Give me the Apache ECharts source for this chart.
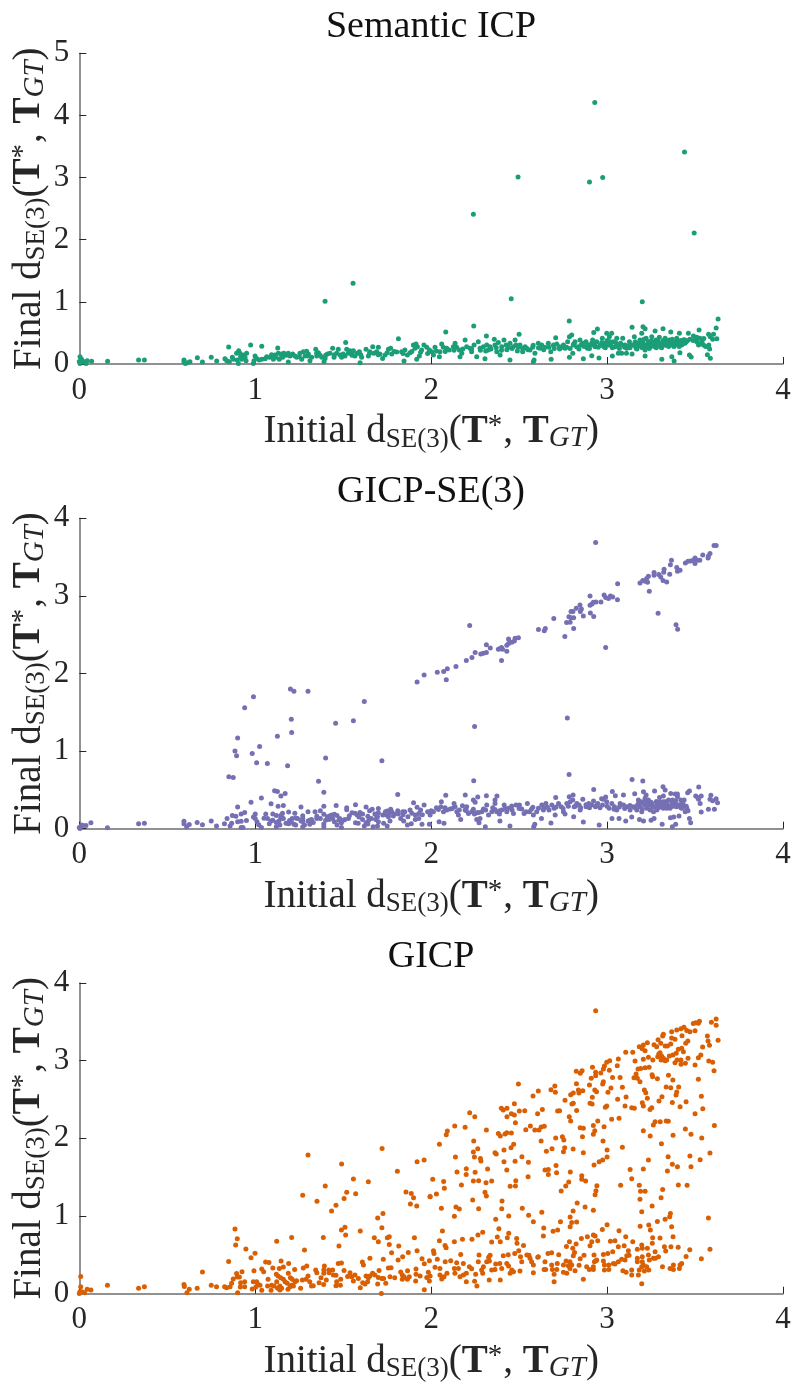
<!DOCTYPE html>
<html>
<head>
<meta charset="utf-8">
<style>html,body{margin:0;padding:0;background:#fff}#chart{width:794px;height:1385px}</style>
<script src="https://cdn.jsdelivr.net/npm/echarts@6/dist/echarts.min.js"></script>
</head>
<body>
<div id="chart"></div>
<script>
// values: [initial, final]
const semanticPoints = [
[1.397,1.01],[1.556,1.3],[2.24,2.41],[2.494,3.01],[2.455,1.05],[3.2,1.0],[2.785,.69],[3.495,2.11],[2.93,4.21],[2.9,2.93],[2.975,3.0],[3.44,3.41],
[.004,.118],[0,.04],[.004,.01],[.013,.075],[.023,.04],[.038,.01],[.045,.054],[.07,.043],[.161,.043],[.337,.064],[.37,.064],[.595,.064],[.595,.032],[.603,.01],[.614,.02],[.629,.038],[.671,.1],[.7,.032],[.75,.107],[.781,.048],[.828,.086],[.849,.274],[.838,.054],[.853,.038],[.87,.107],[.875,.075],[.894,.172],[.898,.064],[.906,.215],[.913,.172],[.917,.118],[.923,.075],[.932,.145],[.942,.107],[.951,.172],[.948,.054],[.904,.01],[.974,.306],[1.037,.284],[.989,.01],[.993,.054],[.999,.129],[1.008,.09],[1.023,.064],[1.037,.075],[1.056,.086],[1.065,.118],[1.08,.107],[1.093,.15],[1.103,.075],[1.112,.145],[1.118,.107],[1.128,.258],[1.131,.172],[1.137,.075],[1.15,.161],[1.156,.107],[1.163,.172],[1.175,.14],[1.188,.172],[1.188,.032],[1.198,.129],[1.213,.161],[1.226,.129],[1.236,.107],[1.254,.172],[1.264,.075],[1.273,.199],[1.283,.129],[1.292,.204],[1.302,.161],[1.311,.054],[1.321,.107],[1.344,.236],[1.349,.172],[1.359,.183],[1.368,.145],[1.378,.107],[1.391,.038],[1.397,.09],[1.41,.161],[1.425,.172],[1.44,.252],[1.448,.107],[1.463,.172],[1.472,.236],[1.482,.145],[1.491,.107],[1.514,.344],[1.52,.236],[1.529,.172],[1.51,.129],[1.539,.215],[1.548,.172],[1.558,.215],[1.567,.129],[1.58,.172],[1.592,.199],[1.596,.02],[1.605,.107],[1.63,.236],[1.643,.129],[1.652,.199],[1.668,.279],[1.675,.172],[1.69,.199],[1.7,.268],[1.709,.161],[1.724,.09],[1.738,.145],[1.757,.236],[1.77,.252],[1.776,.161],[1.814,.408],[1.804,.193],
[2.083,.515],[2.242,.612],[2.314,.451],[2.5,.478],[2.708,.424],[2.924,.505],[2.945,.564],[3.142,.59],[3.204,.6],[3.216,.569],[3.273,.531],[3.318,.569],[3.362,.515],[3.411,.494],[3.523,.548],[3.62,.58],[3.631,.725],[3.605,.478],[3.624,.408],[3.577,.478],[3.586,.44],[3.6,.397],
[1.846,.048],[1.918,.075],[2.306,.086],[2.448,.064],[2.585,.064],[2.581,.038],[2.682,.075],[2.786,.107],[2.805,.172],[2.865,.086],[2.913,.134],[2.954,.097],[3.03,.129],[3.064,.172],[3.083,.172],[3.11,.172],[3.142,.161],[3.216,.129],[3.311,.075],[3.368,.118],[3.381,.048],[3.414,.183],[3.468,.145],[3.478,.113],[3.57,.15],[3.587,.091],[3.577,.279],[3.583,.242],[3.578,.306],[3.52,.306],[3.54,.36],[3.548,.306],[3.462,.494],[3.491,.451],[3.51,.429],[3.528,.413],[3.506,.386],
[1.832,.199],[1.851,.225],[1.865,.145],[1.88,.183],[1.899,.306],[1.914,.322],[1.908,.252],[1.922,.279],[1.933,.129],[1.946,.225],[1.959,.306],[1.975,.268],[1.99,.225],[2.003,.199],[2.013,.145],[2.022,.268],[2.047,.118],[2.05,.199],[2.06,.322],[2.069,.268],[2.088,.252],[2.103,.225],[2.126,.279],[2.136,.333],[2.145,.268],[2.16,.225],[2.164,.118],[2.174,.172],[2.193,.386],[2.202,.279],[2.221,.252],[2.23,.199],[2.244,.306],[2.259,.118],[2.268,.36],[2.278,.252],[2.297,.279],[2.316,.306],[2.325,.225],[2.335,.279],[2.359,.397],[2.363,.306],[2.373,.199],[2.382,.344],[2.392,.145],[2.401,.279],[2.414,.386],[2.426,.306],[2.439,.268],[2.448,.333],[2.467,.279],[2.477,.386],[2.482,.306],[2.496,.268],[2.505,.306],[2.52,.199],[2.534,.279],[2.543,.252],[2.562,.225],[2.577,.268],[2.59,.172],[2.609,.333],[2.619,.252],[2.628,.306],[2.647,.268],[2.666,.333],[2.68,.199],[2.695,.306],[2.714,.322],[2.729,.279],[2.752,.306],[2.761,.252],[2.776,.36],[2.786,.44],[2.799,.467],[2.808,.306],[2.818,.36],[2.827,.279],[2.846,.386],[2.861,.333],[2.88,.36],[2.888,.252],[2.903,.306],[2.918,.386],[2.932,.279],[2.941,.36],[2.96,.306],[2.973,.413],[2.983,.279],[2.998,.494],[3.013,.44],[3.026,.494],[3.036,.36],[3.045,.279],[3.055,.413],[3.064,.306],[3.077,.333],[3.089,.413],[3.102,.306],[3.112,.252],[3.127,.36],[3.14,.306],[3.155,.44],[3.165,.252],[3.178,.333],[3.187,.386],[3.197,.494],[3.206,.306],[3.216,.225],[3.222,.413],[3.235,.36],[3.244,.279],[3.254,.44],[3.263,.333],[3.278,.386],[3.286,.306],[3.297,.429],[3.311,.333],[3.33,.413],[3.339,.306],[3.354,.386],[3.367,.36],[3.377,.306],[3.396,.413],[3.411,.36],[3.424,.306],[3.443,.333],[3.456,.376],
[3.159,.333],[3.172,.279],[3.191,.306],[3.203,.36],[3.225,.306],[3.24,.333],[3.259,.36],[3.273,.279],[3.292,.344],[3.305,.279],[3.32,.333],[3.335,.36],[3.358,.306],[3.386,.333],[3.405,.306],[3.434,.386],[2.989,.333],[3.008,.306],[3.017,.36],[2.97,.344],[2.922,.306],[2.913,.333],
[2.77,.27],[2.79,.25],[2.81,.32],[2.84,.24],[2.85,.3],[2.87,.28],[2.89,.31],[2.9,.25],[2.93,.32],[2.95,.27],[2.97,.3],[2.99,.26],[3.0,.38],[3.02,.3],[3.03,.26],[3.05,.34],[3.07,.25],[3.09,.3],[3.1,.27],[3.12,.29],[3.13,.26],[3.15,.3],[3.16,.36],[3.17,.24],[3.18,.29],[3.19,.34],[3.2,.26],[3.21,.4],[3.22,.28],[3.23,.32],[3.24,.25],[3.25,.37],[3.26,.29],[3.27,.34],[3.28,.26],[3.29,.38],[3.3,.31],[3.31,.26],[3.32,.38],[3.33,.3],[3.34,.36],[3.35,.28],[3.36,.33],[3.37,.4],[3.38,.28],[3.39,.36],[3.4,.31],[3.41,.28],[3.42,.38],[3.43,.33],[3.44,.39],[3.45,.36],[3.47,.4],[3.49,.38],[3.51,.36],[3.53,.33],[3.55,.41],[3.56,.28],
[2.31,.21],[2.34,.24],[2.37,.26],[2.4,.22],[2.43,.23],[2.46,.25],[2.49,.21],[2.52,.25],[2.55,.23],[2.58,.3],[2.61,.26],[2.64,.23],[2.67,.27],[2.7,.25],[2.73,.24],[2.75,.27],[1.1,.13],[1.15,.13],[1.2,.14],[1.25,.12],[1.3,.13],[1.35,.13],[1.4,.14],[1.45,.15],[1.5,.16],[1.55,.14],[1.6,.15],[1.65,.17],[1.7,.15],[1.75,.18],[1.79,.2],[1.84,.17],[1.89,.2],[1.94,.19],[1.98,.17],[2.03,.21],[2.08,.2],[2.13,.22],[2.18,.24],[2.23,.24],[2.28,.22]
];

const gicpSe3Points = [
[1.92,1.89],[1.96,1.98],[.99,1.7],[.94,1.56],[1.2,1.8],[1.22,1.77],[1.3,1.77],[1.62,1.64],[1.205,1.41],[1.207,1.24],[1.126,1.19],[1.457,1.36],[1.558,1.39],[.9,1.17],[1.025,1.06],[.885,1.0],[.894,.94],[.983,.97],[1.008,.85],[1.069,.84],[1.184,.81],[1.4,.91],[1.72,.875],[.85,.67],[.875,.66],[1.36,.61],[1.39,.47],[1.11,.49],[1.126,.48],[1.146,.42],[1.17,.455],[1.035,.395],[.976,.34],[1.09,.32],[1.81,.44],[1.9,.335],
[.9,.28],[1.13,.29],[1.16,.3],[1.26,.28],[1.39,.29],[1.46,.3],[1.57,.31],[1.63,.28],[1.52,.27],[1.52,.245],[1.665,.25],[1.7,.26],[1.65,.23],[1.77,.25],[1.88,.24],[1.92,.275],[1.96,.305],[1.19,.215],[1.225,.2],[1.3,.22],[1.34,.22],[1.37,.23],[.94,.21],[.92,.19],[.87,.17],[.84,.13],[.89,.16],[1.0,.19],[1.06,.19],[1.1,.19],[1.12,.17],[1.155,.2],[1.145,.17],
[.75,.1],[.67,.08],[.7,.05],[.595,.095],[.595,.065],[.61,.025],[.625,.055],[.78,.035],[.825,.065],[.866,.07],[.857,.035],[.9,.09],[.92,.095],[.95,.105],[.92,.017],[.93,.017],[.99,.15],[1.0,.13],[1.01,.09],[1.02,.05],[1.035,.017],[1.05,.135],[1.07,.13],[1.08,.065],[1.09,.1],[1.12,.025],[1.12,.08],[1.14,.047],[1.145,.13],[1.135,.1],[1.15,.155],[1.175,.07],[1.19,.065],[1.195,.107],[1.205,.086],[1.22,.056],[1.23,.047],[1.23,.137],[1.24,.133],[1.27,.167],[1.27,.133],[1.27,.094],[1.28,.047],[1.27,.025],[1.3,.1],[1.31,.11],[1.31,.056],[1.33,.08],[1.35,.133],[1.35,.16],[1.39,.06],[1.39,.025],[1.39,.185],[1.4,.11],[1.41,.155],[1.425,.167],[1.435,.176],[1.45,.185],[1.465,.17],[1.42,.12],[1.44,.133],[1.45,.09],[1.465,.047],[1.49,.017],[1.475,.11],[1.5,.11],[1.51,.12],[1.49,.077],[1.535,.167],[1.55,.206],[1.567,.2],[1.58,.176],[1.595,.21],[1.61,.19],[1.57,.077],[1.585,.07],[1.61,.12],[1.62,.035],[1.63,.077],[1.645,.11],[1.66,.133],[1.64,.06],[1.67,.025],[1.68,.19],[1.7,.206],[1.695,.155],[1.685,.12],[1.7,.09],[1.695,.035],[1.725,.176],[1.74,.22],[1.75,.227],[1.76,.197],[1.757,.155],[1.766,.1],[1.73,.07],[1.75,.035],[1.776,.22],[1.785,.163],[1.81,.23],[1.813,.19],[1.838,.22],[1.85,.22],[1.827,.133],[1.844,.1],[1.868,.155],[1.865,.047],[1.887,.065],[1.91,.176],[1.93,.197],[1.91,.12],[1.93,.13],[1.948,.056],[1.99,.056],[1.94,.24],[1.98,.22],
[.004,.004],[.013,.047],[.02,.04],[0,.017],[.038,.04],[.066,.077],[.16,.013],[.337,.065],[.37,.07],
[2.035,2.017],[2.071,2.026],[2.092,2.06],[2.086,1.92],[2.141,2.09],[2.2,2.167],[2.232,2.206],[2.25,2.27],[2.219,2.62],[2.282,2.25],[2.297,2.26],[2.314,2.27],[2.314,2.37],[2.336,2.33],[2.382,2.313],[2.39,2.32],[2.4,2.335],[2.406,2.313],[2.4,2.167],[2.43,2.287],[2.43,2.365],[2.44,2.386],[2.44,2.446],[2.458,2.403],[2.473,2.42],[2.477,2.455],[2.496,2.46],[2.61,2.566],[2.643,2.55],[2.649,2.58],[2.697,2.71],[2.76,2.476],[2.77,2.657],[2.79,2.66],[2.81,2.58],[2.783,2.73],[2.795,2.72],[2.81,2.72],[2.795,2.8],[2.806,2.8],[2.825,2.84],[2.846,2.884],[2.854,2.83],[2.848,2.8],[2.865,2.74],[2.905,2.78],[2.924,2.734],[2.903,3.0],[2.903,2.88],[2.914,2.897],[2.922,2.918],[2.937,2.92],[2.935,3.687],[2.965,2.92],[2.983,3.01],[2.992,2.98],[3.008,2.966],[3.019,3.0],[3.032,2.987],[3.059,2.95],[3.06,3.155],[2.774,1.425],[2.992,2.335],[2.247,1.318],[2.242,.618],[2.784,.7],[3.29,2.777],[3.392,2.627],[3.401,2.57],[3.24,3.06],[3.187,3.167],[3.203,3.2],[3.216,3.19],[3.225,3.223],[3.235,3.253],[3.23,3.176],[3.267,3.3],[3.267,3.266],[3.294,3.275],[3.305,3.245],[3.318,3.2],[3.324,3.343],[3.322,3.305],[3.339,3.18],[3.356,3.28],[3.36,3.403],[3.366,3.46],[3.396,3.365],[3.4,3.318],[3.415,3.33],[3.445,3.425],[3.46,3.446],[3.475,3.45],[3.49,3.46],[3.5,3.49],[3.51,3.46],[3.5,3.416],[3.527,3.46],[3.544,3.528],[3.574,3.49],[3.576,3.515],[3.585,3.545],[3.608,3.648],[3.62,3.648],
[2.083,.43],[2.194,.433],[2.265,.41],[2.314,.425],[2.374,.42],[2.24,.37],[2.25,.34],[2.363,.37],[2.363,.326],[2.058,.348],[2.708,.403],[2.807,.433],[2.785,.412],[2.924,.506],[3.03,.48],[3.142,.635],[3.203,.614],[3.27,.485],[3.318,.54],[3.33,.498],[3.521,.536],[3.468,.485],[3.458,.463],[3.157,.45],[3.093,.433],[3.047,.425],[2.992,.41],[2.969,.386],
[2.073,.07],[2.045,.09],[2.272,.077],[2.308,.025],[2.391,.1],[2.448,.034],[2.589,.056],[2.583,.025],[2.627,.133],[2.681,.073],[2.81,.155],[2.865,.086],[2.955,.047],[3.028,.13],[3.068,.133],[3.106,.1],[3.14,.15],[3.184,.12],[3.207,.1],[3.25,.11],[3.267,.13],[3.313,.056],[3.371,.025],[3.39,.056],[3.36,.14],[3.379,.15],[3.409,.163],[3.468,.133],[3.475,.077],[3.535,.215],[3.576,.25],[3.61,.25],[3.628,.335],[3.62,.386],[3.59,.43],[3.585,.378],[3.6,.36],[3.529,.326],[3.52,.378],[3.535,.42],[3.504,.42],[3.515,.403],
[1.994,.176],[2.013,.219],[2.041,.249],[2.055,.283],[2.079,.27],[2.089,.24],[2.108,.253],[2.13,.326],[2.136,.283],[2.146,.219],[2.155,.176],[2.168,.12],[2.178,.296],[2.193,.24],[2.202,.283],[2.212,.197],[2.231,.219],[2.246,.189],[2.259,.206],[2.259,.12],[2.278,.133],[2.288,.219],[2.297,.253],[2.316,.305],[2.326,.176],[2.345,.219],[2.363,.249],[2.373,.219],[2.388,.189],[2.401,.24],[2.415,.305],[2.43,.219],[2.439,.262],[2.458,.292],[2.468,.197],[2.483,.305],[2.502,.305],[2.515,.253],[2.528,.197],[2.547,.326],[2.559,.219],[2.578,.275],[2.581,.176],[2.61,.262],[2.629,.305],[2.652,.326],[2.638,.24],[2.661,.275],[2.686,.305],[2.699,.262],[2.705,.176],[2.724,.326],[2.739,.283],[2.752,.219],[2.761,.189],[2.771,.326],[2.79,.348],[2.805,.369],[2.813,.283],[2.828,.326],[2.841,.305],[2.847,.24],[2.862,.378],[2.881,.283],[2.896,.326],[2.913,.305],[2.923,.356],[2.934,.283],[2.947,.326],[2.974,.305],[2.979,.378],[2.998,.348],[3.012,.262],[3.027,.326],[3.042,.283],[3.055,.24],[3.074,.326],[3.093,.305],[3.112,.283],[3.131,.24],[3.15,.283],[3.173,.305],[3.178,.369],[3.192,.348],[3.207,.326],[3.216,.391],[3.235,.369],[3.226,.262],[3.245,.24],[3.254,.326],[3.264,.219],[3.283,.326],[3.292,.27],[3.305,.305],[3.32,.262],[3.33,.348],[3.343,.305],[3.358,.262],[3.372,.369],[3.387,.326],[3.4,.412],[3.419,.369],[3.438,.369],[3.425,.262],[3.453,.262],[3.207,.476],[3.222,.433],[3.298,.403],[3.32,.42],[3.362,.455],[3.387,.446],[3.4,.446],
[3.188,.283],[3.216,.305],[3.245,.305],[3.273,.283],[3.302,.348],[3.339,.262],[3.368,.305],[3.396,.283],[3.434,.305],[3.444,.219],[3.197,.219],[3.169,.24],[3.226,.326],[3.283,.24],[3.32,.348],[3.349,.369],
[2.0,.23],[2.03,.27],[2.07,.22],[2.12,.26],[2.16,.24],[2.2,.23],[2.24,.25],[2.27,.21],[2.31,.24],[2.35,.27],[2.39,.23],[2.42,.26],[2.46,.24],[2.5,.26],[2.54,.22],[2.57,.25],[2.6,.22],[2.64,.27],[2.67,.24],[2.71,.28],[2.75,.26],[2.78,.29],[2.82,.29],[2.85,.27],[2.88,.31],[2.9,.27],[2.94,.3],[2.96,.27],[3.0,.29],[3.04,.25],[3.07,.28],[3.1,.26],[3.13,.3],[3.16,.27],[3.18,.33],[3.2,.25],[3.21,.35],[3.23,.29],[3.25,.34],[3.26,.28],[3.28,.35],[3.3,.28],[3.31,.33],[3.33,.29],[3.34,.34],[3.36,.28],[3.37,.33],[3.38,.29],[3.39,.36],[3.41,.31],[3.42,.27],[3.43,.34],[3.45,.29],[3.46,.23],[1.1,.11],[1.16,.13],[1.21,.13],[1.26,.1],[1.32,.12],[1.37,.13],[1.43,.14],[1.48,.13],[1.53,.13],[1.59,.15],[1.64,.16],[1.69,.17],[1.74,.18],[1.79,.19],[1.84,.18],[1.89,.2],[1.95,.18]
];

const gicpPoints = [
[.008,.22],[.008,.09],[.004,.026],[0,.004],[.015,.026],[.03,.013],[.045,.056],[.066,.047],[.16,.11],[.337,.069],[.37,.09],[.595,.12],[.597,.094],[.612,.013],[.625,.056],[.67,.069],[.7,.28],[.75,.11],[.78,.09],[.826,.09],[.838,.077],[.857,.09],[.866,.133],[.875,.19],[.894,.26],[.898,.215],[.91,.215],[.925,.283],[.885,.833],[.898,.708],[.889,.627],[.947,.575],[.999,.52],[.976,.464],[.849,.416],[.9,.013],[.917,.142],[.94,.155],[.915,.086],[.94,.09],[.983,.06],[.989,.155],[.993,.296],[1.008,.155],[1.014,.124],[1.027,.11],[1.004,.086],[1.037,.043],[1.037,.318],[1.048,.283],[1.059,.408],[1.078,.403],[1.073,.185],[1.07,.099],[1.09,.043],[1.1,.33],[1.093,.11],[1.107,.099],[1.122,.674],[1.12,.25],[1.13,.227],[1.137,.326],[1.147,.42],[1.16,.343],[1.145,.206],[1.16,.185],[1.122,.155],[1.127,.069],[1.14,.047],[1.15,.069],[1.14,.1],[1.17,.155],[1.182,.133],[1.186,.056],[1.19,.39],[1.188,.262],[1.198,.09],[1.207,.725],[1.2,.206],[1.21,.185],[1.207,.11],[1.217,.1],[1.226,.155],[1.235,.167],[1.224,.313],[1.258,.069],[1.268,.176],[1.273,.33],[1.27,1.266],[1.28,.562],[1.293,.356],[1.3,.227],[1.289,.185],[1.31,.155],[1.32,.1],[1.3,1.785],[1.33,.103],[1.344,.305],[1.35,.27],[1.351,1.19],[1.363,.142],[1.374,.206],[1.387,.725],[1.393,.356],[1.39,.305],[1.39,.262],[1.389,.12],[1.404,.176],[1.398,1.386],[1.418,.305],[1.42,.27],[1.434,1.064],[1.44,.305],[1.444,.24],[1.459,.236],[1.459,1.14],[1.463,.155],[1.459,.103],[1.476,.614],[1.472,.39],[1.49,.395],[1.486,.185],[1.484,.11],[1.491,1.67],[1.49,.82],[1.51,.854],[1.514,.755],[1.505,1.227],[1.52,1.305],[1.505,.3],[1.525,.223],[1.539,.27],[1.548,.219],[1.558,1.476],[1.571,1.288],[1.567,.24],[1.558,.163],[1.586,.197],[1.597,.807],[1.597,.077],[1.609,.408],[1.615,.369],[1.611,.142],[1.624,.124],[1.639,.155],[1.643,1.442],[1.652,.455],[1.63,.227],[1.643,.206],[1.652,.227],[1.667,.262],[1.677,.72],[1.68,.24],[1.696,.974],[1.7,.67],[1.7,.21],[1.696,.124],[1.704,.3],[1.717,.004],[1.72,.85],[1.721,1.87],[1.726,1.034],[1.728,.442],[1.72,.197],[1.73,.197],[1.742,.133],[1.751,.72],[1.762,.734],[1.762,.635],[1.757,.33],[1.772,.335],[1.766,.219],[1.775,.528],[1.793,.206],[1.808,1.575],[1.812,.433],[1.816,.614],[1.827,.279],[1.836,.24],[1.836,.185],[1.846,.219],[1.838,.476],[1.857,1.31],[1.887,1.29],[1.9,1.236],[1.882,1.155],[1.918,1.129],[1.87,.532],[1.866,.296],[1.865,.185],[1.876,.219],[1.905,.72],[1.92,1.7],[1.96,1.72],[1.92,.554],[1.914,.318],[1.914,.249],[1.912,.163],[1.937,.227],[1.948,.45],[1.961,.386],[1.961,.05],[1.975,.21],[1.994,1.25],[1.984,.275],[1.99,.425],[1.99,.163],
[2.935,3.644],[3.62,3.536],[3.62,3.455],[3.593,3.494],[3.631,3.262],[3.57,3.318],[3.574,3.253],[3.582,3.2],[3.543,3.176],[3.525,3.506],[3.519,3.481],[3.504,3.489],[3.49,3.48],[3.5,3.386],[3.471,3.373],[3.453,3.39],[3.437,3.43],[3.42,3.412],[3.396,3.395],[3.367,3.373],[3.32,3.339],[3.316,3.318],[3.29,3.27],[3.367,3.292],[3.386,3.275],[3.426,3.322],[3.459,3.253],[3.447,3.223],[3.305,3.223],[3.33,3.189],[3.343,3.189],[3.362,3.215],[3.267,3.206],[3.282,3.18],[3.229,3.232],[3.206,3.202],[3.183,3.18],[3.2,3.155],[3.146,3.107],[3.106,3.107],[3.064,3.021],[3.015,3.0],[2.998,2.98],[2.985,2.93],[2.979,2.893],[3.058,2.936],[3.013,2.876],[2.964,2.84],[2.935,2.85],[2.935,2.807],[2.917,2.914],[2.858,2.871],[2.848,2.837],[2.825,2.863],
[3.216,3.129],[3.294,3.086],[3.301,3.103],[3.288,3.05],[3.31,3.06],[3.32,3.03],[3.33,3.0],[3.307,3.01],[3.339,3.01],[3.354,3.06],[3.374,3.073],[3.393,3.094],[3.405,3.146],[3.424,3.159],[3.434,3.116],[3.46,3.03],[3.445,2.966],[3.42,3.009],[3.398,3.009],[3.386,2.974],[3.42,2.953],[3.519,3.039],[3.533,3.073],[3.5,2.944],[3.578,2.996],[3.6,2.979],[3.608,2.871],[3.519,2.76],[3.26,3.009],[3.235,3.043],[3.206,3.017],[3.159,2.996],[3.176,2.893],[3.191,2.9],[3.216,2.91],[3.239,2.914],[3.256,2.82],[3.259,2.794],[3.286,2.768],[3.153,2.781],[3.165,2.828],[3.172,2.773],[3.187,2.73],[3.349,2.811],[3.374,2.751],[3.336,2.661],[3.362,2.652],[3.407,2.661],[3.212,2.622],[3.22,2.588],[3.396,2.597],[3.392,2.558],[3.229,2.515],[3.2,2.459],[3.206,2.416],[3.244,2.373],[3.254,2.395],[3.295,2.48],[3.312,2.536],[3.371,2.463],[3.415,2.408],[3.449,2.472],[3.536,2.541],[3.544,2.382],[3.5,2.318],[3.61,2.167],[3.445,2.12],[3.477,2.052],[3.538,2.004],[3.375,2.039],[3.309,1.931],[3.245,2.03],[3.206,2.099],[3.273,2.215],[3.302,2.215],[3.336,2.223],[3.348,2.219],[3.263,2.172],[3.102,2.416],[3.14,2.395],[3.155,2.386],[3.108,2.532],[3.06,2.502],[3.087,2.657],[3.074,2.785],[3.031,2.785],[3.022,2.648],[3.005,2.592],[2.979,2.73],[2.975,2.7],[2.998,2.416],[2.99,2.4],[3.026,2.245],[3.068,2.258],[2.983,2.15],[2.947,2.223],[2.922,2.167],[2.93,2.099],[2.922,2.052],[2.977,1.966],[3.0,1.85],[3.087,1.884],[3.0,1.76],[2.975,1.72],[2.955,1.7],[2.926,1.657],[2.865,1.815],[2.865,2.129],[2.847,2.137],[2.86,2.021],[2.807,1.863],[2.754,1.979],[2.759,1.88],[2.752,1.828],[2.746,2.021],[2.708,2.004],[2.625,1.966],[2.687,1.867],[2.655,1.833],[2.71,1.652],[2.666,1.6],[2.647,1.592],[2.666,1.536],[2.713,1.558],[2.791,1.567],[2.856,1.519],[2.856,1.472],[2.878,1.45],[2.782,1.438],[2.765,1.386],[2.739,1.322],[2.942,1.39],[2.937,1.326],[2.932,1.275],[2.83,1.167],[2.875,1.116],[2.807,1.064],[2.922,1.073],[2.79,.987],[2.827,.923],[2.799,.918],[2.79,.863],[2.735,.927],[2.719,.82],[2.693,.803],[2.64,.846],[2.638,.742],[2.629,1.047],[2.518,1.099],[2.554,1.009],[2.581,.927],[2.441,1.0],[2.367,.957],[2.401,1.094],[2.403,1.193],[2.27,1.094],[2.236,1.206],[2.306,1.305],[2.314,1.257],[2.141,1.116],[2.16,1.09],[2.132,.996],[2.058,1.099],[2.03,1.283],[2.075,1.356],[2.071,1.446],[2.009,1.472],[1.994,1.249],[2.172,1.399],[2.199,1.536],[2.2,1.609],[2.25,1.562],[2.24,1.45],[2.27,1.455],[2.312,1.429],[2.344,1.45],[2.321,1.605],[2.147,1.567],[2.138,1.76],[2.047,1.923],[2.24,1.824],[2.246,1.76],[2.265,1.867],[2.28,1.742],[2.283,1.708],[2.242,1.966],[2.363,1.815],[2.37,1.798],[2.414,1.7],[2.414,1.85],[2.454,1.88],[2.469,1.923],[2.477,1.704],[2.516,1.764],[2.553,1.691],[2.43,1.592],[2.551,1.506],[2.481,1.455],[2.479,1.386],[2.449,1.382],
[2.314,2.107],[2.134,2.159],[2.193,2.142],[2.092,2.094],[2.086,2.047],[2.219,2.33],[2.248,2.279],[2.382,2.064],[2.393,2.03],[2.42,2.056],[2.43,2.073],[2.456,2.069],[2.479,2.202],[2.538,2.112],[2.564,2.159],[2.589,2.107],[2.613,2.107],[2.626,2.146],[2.643,2.155],[2.399,2.386],[2.41,2.365],[2.431,2.386],[2.431,2.279],[2.456,2.318],[2.473,2.3],[2.473,2.446],[2.501,2.352],[2.532,2.356],[2.605,2.318],[2.632,2.373],[2.579,2.545],[2.609,2.609],[2.496,2.7],[2.681,2.627],[2.703,2.674],[2.706,2.592],[2.761,2.489],[2.808,2.451],[2.8,2.442],[2.827,2.36],[2.719,2.352],[2.73,2.356],[2.785,2.279],[2.793,2.223],[2.793,2.562],[2.808,2.584],[2.84,2.584],[2.837,2.622],[2.862,2.614],[2.826,2.704],[2.9,2.687],[2.91,2.773],[2.93,2.622],[2.94,2.6],[2.916,2.528],[2.903,2.451],[2.915,2.442],
[2.064,.807],[2.047,.682],[2.132,.67],[2.178,.7],[2.232,.7],[2.266,.755],[2.293,.79],[2.344,.665],[2.385,.837],[2.376,.73],[2.393,.67],[2.433,.72],[2.441,.777],[2.486,.712],[2.488,.648],[2.525,.622],[2.498,.554],[2.475,.519],[2.013,.554],[2.016,.519],[2.079,.622],[2.085,.592],[2.168,.506],[2.272,.498],[2.335,.494],[2.327,.468],[2.41,.489],[2.438,.502],[2.556,.494],[2.609,.476],[2.664,.519],[2.685,.528],[2.725,.502],[2.769,.609],[2.786,.67],[2.824,.64],[2.854,.712],[2.888,.734],[2.922,.755],[2.932,.742],[2.947,.682],[2.913,.67],[2.903,.618],[2.973,.828],[3.0,.888],[3.068,.811],[3.106,.734],[3.019,.674],[3.045,.682],[3.146,.67],[3.188,.867],[3.237,.884],[3.246,.82],[3.286,.931],[3.33,.957],[3.356,.991],[3.36,1.034],[3.367,.863],[3.259,.72],[3.301,.717],[3.375,.734],[3.257,.648],[3.197,1.056],[3.187,1.215],[3.19,1.318],[3.216,1.318],[3.183,1.395],[3.077,1.395],[3.14,1.481],[3.131,1.6],[3.206,1.605],[3.235,1.72],[3.347,1.764],[3.371,1.665],[3.4,1.635],[3.343,1.579],[3.471,1.772],[3.477,1.635],[3.529,1.725],[3.585,1.811],[3.405,1.399],[3.455,1.395],[3.316,1.343],[3.307,1.236],[3.256,1.129],[3.576,.974],[3.585,.571],[3.536,.45],[3.47,.567],[3.449,.48],[3.404,.597],[3.363,.605],[3.326,.605],[3.333,.549],[3.292,.476],[3.273,.541],[3.275,.455],[3.24,.433],[3.229,.584],[3.2,.584],[3.172,.571],[3.197,.627],[3.121,.554],[3.125,.494],[3.112,.489],[3.097,.618],[3.064,.605],[3.032,.541],[3.004,.519],[2.979,.506],[2.926,.498],[2.941,.433],[2.869,.494],[2.847,.45],[2.805,.584],[2.815,.532],[2.808,.489],
[1.994,.227],[2.022,.339],[2.035,.442],[2.05,.326],[2.05,.24],[2.06,.189],[2.073,.219],[2.08,.412],[2.09,.262],[2.111,.425],[2.132,.326],[2.135,.262],[2.145,.4],[2.155,.326],[2.164,.219],[2.183,.39],[2.183,.24],[2.2,.262],[2.2,.155],[2.217,.348],[2.23,.322],[2.253,.249],[2.247,.159],[2.26,.099],[2.268,.412],[2.287,.305],[2.297,.348],[2.316,.412],[2.331,.42],[2.33,.176],[2.293,.262],[2.344,.305],[2.363,.313],[2.367,.382],[2.39,.39],[2.401,.326],[2.393,.176],[2.43,.39],[2.44,.356],[2.458,.305],[2.468,.283],[2.449,.262],[2.505,.292],[2.508,.476],[2.515,.412],[2.544,.498],[2.562,.455],[2.571,.412],[2.581,.369],[2.581,.27],[2.606,.468],[2.647,.412],[2.642,.313],[2.651,.313],[2.685,.369],[2.689,.313],[2.699,.249],[2.699,.155],[2.717,.39],[2.714,.313],[2.752,.369],[2.752,.275],[2.771,.262],[2.767,.42],[2.78,.36],[2.789,.412],[2.799,.369],[2.789,.326],[2.818,.296],[2.841,.365],[2.865,.185],[2.884,.348],[2.899,.313],[2.922,.348],[2.922,.313],[2.928,.412],[2.937,.425],[2.979,.42],[2.985,.369],[2.985,.305],[3.01,.369],[3.01,.313],[3.036,.39],[3.045,.382],[3.064,.412],[3.083,.442],[3.102,.433],[3.09,.296],[3.108,.275],[3.14,.305],[3.14,.24],[3.178,.24],[3.183,.305],[3.197,.348],[3.206,.369],[3.225,.348],[3.237,.305],[3.212,.292],[3.172,.412],[3.172,.455],[3.2,.476],[3.2,.412],[3.235,.498],[3.263,.455],[3.197,.129],[3.315,.348],[3.358,.326],[3.377,.369],[3.377,.313],[3.411,.326],[3.424,.39],[3.415,.369]
];

const panelTitles = ['Semantic ICP', 'GICP-SE(3)', 'GICP'];
const panelColors = ['#1b9e77', '#7570b3', '#d95f02'];
const panelSeries = [semanticPoints, gicpSe3Points, gicpPoints];
const panelTops = [53.3, 518.3, 983];
const panelHeights = [310.7, 310.4, 310.7];
const yMax = [5, 4, 4];
const xMax = 4;

const serif = '"Liberation Serif", serif';
const ink = '#262626';
const labelRich = {
    t: {fontFamily: serif, fontSize: 39, color: ink},
    s: {fontFamily: serif, fontSize: 27, color: ink, padding: [15, 0, 0, 0]},
    b: {fontFamily: serif, fontSize: 39, color: ink, fontWeight: 'bold'},
    u: {fontFamily: serif, fontSize: 29, color: ink, padding: [0, 1, 11, 0]},
    i: {fontFamily: serif, fontSize: 29, color: ink, fontStyle: 'italic', padding: [13, 0, 0, 0]}
};
const xName = '{t|Initial d}{s|SE(3)}{t|(}{b|T}{u|*}{t|, }{b|T}{i|GT}{t|)}';
const yName = '{t|Final d}{s|SE(3)}{t|(}{b|T}{u|*}{t|, }{b|T}{i|GT}{t|)}';

function axisLine() {
    return {show: true, onZero: false, lineStyle: {color: '#6e6e6e', width: 1.5}};
}
function axisTick() {
    return {show: true, inside: true, length: 7, lineStyle: {color: ink, width: 1}};
}
function tickLabel(margin) {
    return {fontFamily: serif, fontSize: 31, color: ink, margin: margin};
}

const option = {
    animation: false,
    backgroundColor: '#fff',
    title: panelTitles.map((t, i) => ({
        text: t,
        left: 431,
        top: panelTops[i] - 45,
        padding: 0,
        textAlign: 'center',
        textStyle: {fontFamily: serif, fontSize: 38, fontWeight: 'normal', color: '#111'}
    })),
    grid: panelTops.map((top, i) => ({left: 79.3, width: 703.7, top: top, height: panelHeights[i], outerBoundsMode: 'none'})),
    xAxis: panelTops.map((top, i) => ({
        type: 'value', gridIndex: i, min: 0, max: xMax, interval: 1,
        splitLine: {show: false},
        axisLine: axisLine(), axisTick: axisTick(), axisLabel: tickLabel(11),
        name: xName, nameLocation: 'middle', nameGap: 47, nameMoveOverlap: false,
        nameTextStyle: {rich: labelRich}
    })),
    yAxis: panelTops.map((top, i) => ({
        type: 'value', gridIndex: i, min: 0, max: yMax[i], interval: 1,
        splitLine: {show: false},
        axisLine: axisLine(), axisTick: axisTick(), axisLabel: tickLabel(10),
        name: yName, nameLocation: 'middle', nameGap: 29, nameRotate: 90, nameMoveOverlap: false,
        nameTextStyle: {rich: labelRich}
    })),
    series: panelSeries.map((pts, i) => ({
        type: 'scatter', xAxisIndex: i, yAxisIndex: i, data: pts,
        symbol: 'circle', symbolSize: 5, clip: false, z: 5,
        itemStyle: {color: panelColors[i], opacity: 1}
    }))
};

var myChart = echarts.init(document.getElementById('chart'), null, {renderer: 'canvas'});
myChart.setOption(option);
</script>
</body>
</html>
